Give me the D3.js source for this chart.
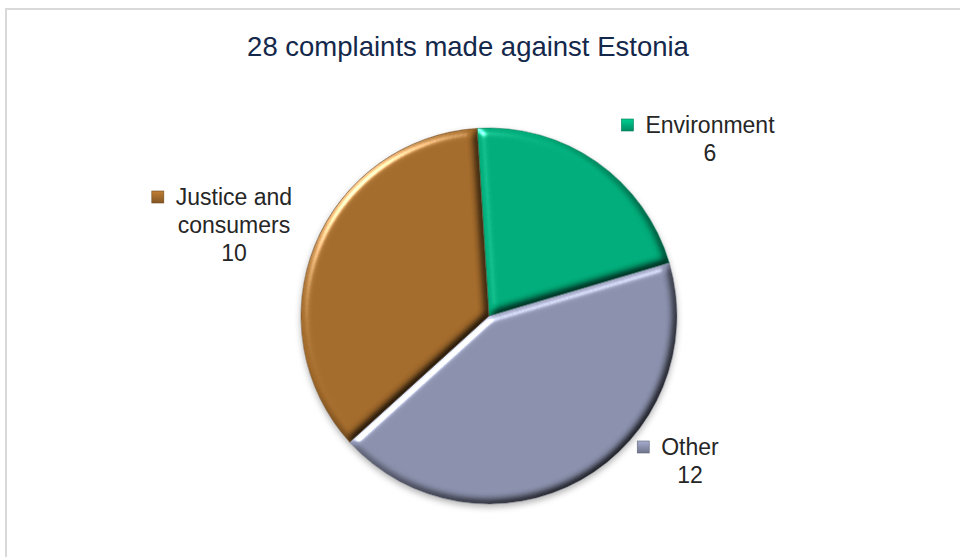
<!DOCTYPE html>
<html>
<head>
<meta charset="utf-8">
<script src="https://cdn.jsdelivr.net/npm/d3@7"></script>
<style>
  html, body { margin: 0; padding: 0; background: #fff; }
  svg { display: block; font-family: "Liberation Sans", Arial, sans-serif; }
</style>
</head>
<body>
<svg id="chart" width="960" height="557"></svg>
<script>
// ---- data ----
const title = "28 complaints made against Estonia";
const categories = ["Environment", "Other", "Justice and consumers"];
const values = [6, 12, 10];
const colors = ["#00AC79", "#8A90AC", "#A26A2B"];

// ---- layout ----
const W = 960, H = 557;
const cx = 489, cy = 316, R = 188;
const startAngle = -0.063;
const labelAnchors = {            // centre x of label block, first baseline
  "Environment": [710, 133],
  "Other": [690, 455],
  "Justice and consumers": [234, 205]
};

const svg = d3.select("#chart");
const defs = svg.append("defs");

// bevel filter
const f = defs.append("filter").attr("id", "bevel")
  .attr("color-interpolation-filters", "sRGB")
  .attr("x", "-10%").attr("y", "-10%").attr("width", "120%").attr("height", "120%");
f.append("feGaussianBlur").attr("in", "SourceAlpha").attr("stdDeviation", 4.5).attr("result", "blur");
const dl = f.append("feDiffuseLighting").attr("in", "blur").attr("surfaceScale", 5)
  .attr("diffuseConstant", 1 / Math.sin(55 * Math.PI / 180)).attr("lighting-color", "#fff").attr("result", "diff");
dl.append("feDistantLight").attr("azimuth", 225).attr("elevation", 55);
f.append("feComposite").attr("in", "SourceGraphic").attr("in2", "diff")
  .attr("operator", "arithmetic").attr("k1", 1).attr("k2", 0).attr("k3", 0).attr("k4", 0).attr("result", "shaded");
const sl = f.append("feSpecularLighting").attr("in", "blur").attr("surfaceScale", 5)
  .attr("specularConstant", 0.7).attr("specularExponent", 30).attr("lighting-color", "#ffffff").attr("result", "spec");
sl.append("feDistantLight").attr("azimuth", 225).attr("elevation", 30);
f.append("feComposite").attr("in", "spec").attr("in2", "SourceAlpha").attr("operator", "in").attr("result", "specIn");
f.append("feComposite").attr("in", "shaded").attr("in2", "specIn")
  .attr("operator", "arithmetic").attr("k1", 0).attr("k2", 1).attr("k3", 1).attr("k4", 0).attr("result", "lit");
f.append("feComposite").attr("in", "lit").attr("in2", "SourceAlpha").attr("operator", "in");

// pie shadow
const sh = defs.append("filter").attr("id", "shadow")
  .attr("color-interpolation-filters", "sRGB")
  .attr("x", "-10%").attr("y", "-10%").attr("width", "120%").attr("height", "125%");
sh.append("feDropShadow").attr("dx", 0).attr("dy", 3).attr("stdDeviation", 3)
  .attr("flood-color", "#000").attr("flood-opacity", 0.3);

// marker gradient
colors.forEach((c, i) => {
  const g = defs.append("linearGradient").attr("id", "mk" + i)
    .attr("x1", 0).attr("y1", 0).attr("x2", 0).attr("y2", 1);
  g.append("stop").attr("offset", "0%").attr("stop-color", d3.color(c).brighter(0.5));
  g.append("stop").attr("offset", "100%").attr("stop-color", d3.color(c).darker(0.6));
});

// chart border
svg.append("rect").attr("x", 6).attr("y", 9).attr("width", W).attr("height", H)
  .attr("fill", "#fff").attr("stroke", "#d9d9d9").attr("stroke-width", 2);

// title
svg.append("text").attr("x", 468).attr("y", 56).attr("text-anchor", "middle")
  .attr("font-size", 27.5).attr("fill", "#14284B").text(title);

// pie
const pie = d3.pie().sort(null).value(d => d.value)
  .startAngle(startAngle).endAngle(startAngle + 2 * Math.PI);
const data = categories.map((c, i) => ({ name: c, value: values[i], color: colors[i], i }));
const arcs = pie(data);
const arc = d3.arc().innerRadius(0).outerRadius(R);

const pg = svg.append("g").attr("transform", `translate(${cx},${cy})`).attr("filter", "url(#shadow)");
pg.selectAll("path").data(arcs).join("path")
  .attr("d", arc)
  .attr("fill", d => d.data.color)
  .attr("filter", "url(#bevel)");
pg.selectAll("path.edge").data(arcs).join("path").attr("class", "edge")
  .attr("d", arc).attr("fill", "none")
  .attr("stroke", d => d3.color(d.data.color).darker(1.2)).attr("stroke-width", 0.8).attr("stroke-opacity", 0.6);

// labels
const lg = svg.append("g");
arcs.forEach(d => {
  const [lx, ly] = labelAnchors[d.data.name];
  const g = lg.append("g");
  // wrap name
  const words = d.data.name.split(" ");
  const lines = [];
  let cur = "";
  const tmp = g.append("text").attr("font-size", 23);
  words.forEach(w => {
    const test = cur ? cur + " " + w : w;
    tmp.text(test);
    if (tmp.node().getComputedTextLength() > 140 && cur) { lines.push(cur); cur = w; }
    else cur = test;
  });
  lines.push(cur);
  tmp.text(lines[0]);
  const firstW = tmp.node().getComputedTextLength();
  tmp.remove();
  lines.push(String(d.data.value));
  lines.forEach((t, k) => {
    g.append("text").attr("x", lx).attr("y", ly + k * 28).attr("text-anchor", "middle")
      .attr("font-size", 23).attr("fill", "#262626").text(t);
  });
  g.append("rect")
    .attr("x", lx - firstW / 2 - 12 - 12).attr("y", ly - 14).attr("width", 12).attr("height", 12)
    .attr("fill", `url(#mk${d.data.i})`).attr("stroke", d3.color(d.data.color).darker(1)).attr("stroke-width", 0.6);
});
</script>
</body>
</html>
